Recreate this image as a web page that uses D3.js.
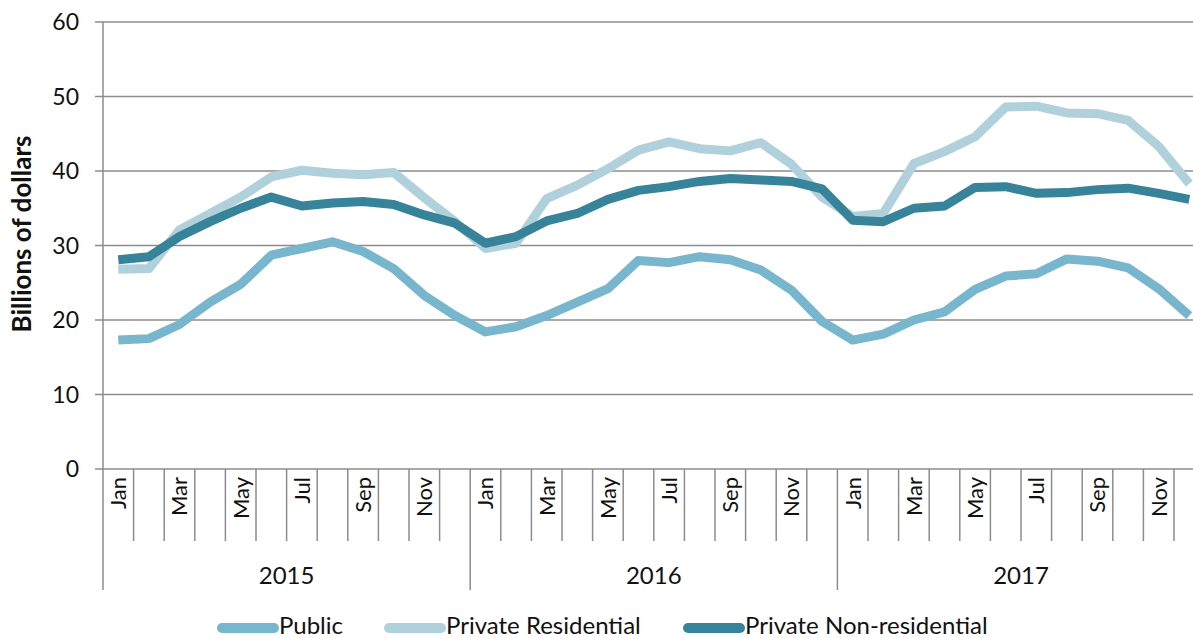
<!DOCTYPE html>
<html><head><meta charset="utf-8">
<script src="https://cdn.jsdelivr.net/npm/d3@7"></script>
<style>body{margin:0;background:#fff}svg{display:block}text{font-family:Lato,"Noto Sans",sans-serif;fill:#111}</style>
</head><body><svg id="c" width="1193" height="638"></svg>
<script>
const years = ["2015","2016","2017"];
const monthNames = ["Jan","Feb","Mar","Apr","May","Jun","Jul","Aug","Sep","Oct","Nov","Dec"];
const monthLabels = ["Jan","","Mar","","May","","Jul","","Sep","","Nov",""];
const yTicks = [0,10,20,30,40,50,60];
const seriesNames = ["Public","Private Residential","Private Non-residential"];
const seriesColors = ["#77b6cd","#b0d0db","#37849a"];
const publicVals = [17.3,17.5,19.4,22.4,24.8,28.7,29.6,30.5,29.2,26.9,23.3,20.6,
                    18.4,19.1,20.6,22.4,24.2,28.0,27.7,28.5,28.1,26.7,24.0,19.8,
                    17.3,18.1,20.0,21.1,24.1,25.9,26.2,28.2,27.9,27.0,24.2,20.6];
const residentialVals = [26.8,26.9,32.1,34.3,36.5,39.2,40.1,39.7,39.5,39.8,36.4,33.2,
                    29.6,30.3,36.3,38.1,40.3,42.8,43.9,43.0,42.7,43.8,40.9,36.5,
                    33.9,34.3,41.0,42.6,44.6,48.6,48.7,47.8,47.7,46.8,43.3,38.3];
const nonResVals = [28.1,28.5,31.2,33.2,35.0,36.5,35.3,35.7,35.9,35.5,34.1,33.0,
                    30.3,31.2,33.3,34.3,36.2,37.4,37.9,38.6,39.0,38.8,38.6,37.6,
                    33.4,33.2,35.0,35.3,37.8,37.9,37.0,37.1,37.5,37.7,37.0,36.2];

const months = [];
years.forEach(y => monthNames.forEach((m,i) => months.push({key:y+"-"+m, year:y, label:monthLabels[i]})));
const series = [publicVals, residentialVals, nonResVals];

const svg = d3.select("#c");
const x0 = 103, plotTop = 22, plotBottom = 469, step = 30.6;
const x = d3.scaleBand().domain(months.map(d=>d.key)).range([x0, x0 + step*months.length]).paddingInner(0).paddingOuter(0);
const y = d3.scaleLinear().domain([0,60]).range([plotBottom, plotTop]);
const xEnd = 1193;
const grid = "#8c8c8c";

// gridlines and y labels
const yAxis = svg.append("g");
yTicks.forEach(t => {
  yAxis.append("line").attr("x1",95).attr("x2",xEnd).attr("y1",y(t)).attr("y2",y(t))
    .attr("stroke",grid).attr("stroke-width",1.5);
  yAxis.append("text").attr("x",79).attr("y",y(t)).attr("dy","0.36em").attr("text-anchor","end")
    .style("font-size","23px").text(t);
});
svg.append("line").attr("x1",x0).attr("x2",x0).attr("y1",plotTop).attr("y2",plotBottom).attr("stroke",grid).attr("stroke-width",1.5);

// month ticks
for (let k=0; k<=months.length; k++) {
  const xx = x0 + step*k;
  const isYear = k % 12 === 0;
  svg.append("line").attr("x1",xx).attr("x2",xx).attr("y1",plotBottom).attr("y2", isYear ? 590 : 541)
    .attr("stroke",grid).attr("stroke-width",1.5);
}
// month labels
months.forEach(m => {
  if (!m.label) return;
  const cx = x(m.key) + x.bandwidth()/2;
  svg.append("text").attr("transform",`translate(${cx},477) rotate(-90)`)
    .attr("text-anchor","end").attr("dy","0.36em").style("font-size","22px").text(m.label);
});
// year labels
years.forEach((yr,i) => {
  const a = x(yr+"-Jan"), b = x(yr+"-Dec") + x.bandwidth();
  svg.append("text").attr("x",(a+b)/2).attr("y",584).attr("text-anchor","middle").style("font-size","24px").text(yr);
});

// lines
const line = d3.line().x((d,i)=>x(months[i].key)+x.bandwidth()/2).y(d=>y(d)).curve(d3.curveLinear);
series.forEach((s,i) => {
  svg.append("path").datum(s).attr("d",line).attr("fill","none").attr("stroke",seriesColors[i])
    .attr("stroke-width",9).attr("stroke-linejoin","round").attr("stroke-linecap","butt");
});

// y title
svg.append("text").attr("transform","translate(22,234) rotate(-90)").attr("text-anchor","middle")
  .attr("dy","0.36em").style("font-size","26px").style("font-weight","bold").text("Billions of dollars");

// legend
const legX = [222, 389, 688];
seriesNames.forEach((n,i) => {
  const g = svg.append("g").attr("transform",`translate(${legX[i]},628)`);
  g.append("line").attr("x1",0).attr("x2",52).attr("stroke",seriesColors[i]).attr("stroke-width",10).attr("stroke-linecap","round");
  g.append("text").attr("x",57).attr("y",6).style("font-size","24px").text(n);
});
</script></body></html>
